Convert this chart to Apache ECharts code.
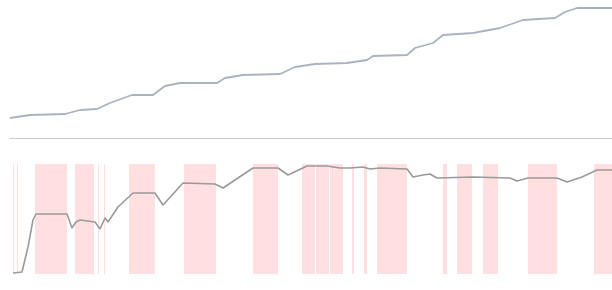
<!DOCTYPE html>
<html>
<head>
<meta charset="utf-8">
<script src="https://cdn.jsdelivr.net/npm/echarts@6/dist/echarts.min.js"></script>
<style>
  html, body { margin: 0; padding: 0; background: #fff; }
  #chart { width: 612px; height: 290px; }
</style>
</head>
<body>
<div id="chart"></div>
<script>
// top panel: cumulative curve [x, value]
const topLine = [
  [0, 20], [20, 23], [55, 24], [70, 28], [87, 29], [100, 35], [122, 43], [143, 43],
  [155, 52], [170, 55], [207, 55], [215, 60], [233, 63], [270, 64], [285, 71],
  [305, 74], [337, 75], [357, 78], [363, 82], [397, 83], [405, 90], [423, 95],
  [433, 103], [463, 105], [490, 110], [513, 118], [545, 120], [555, 126],
  [567, 130], [602, 130]
];

// bottom panel: level curve [x, value]
const bottomLine = [
  [3, 1], [12, 2], [18, 27], [23, 54], [26, 60], [57, 60], [62, 46], [66, 52],
  [70, 54], [85, 52], [90, 45], [95, 56], [98, 52], [108, 67], [123, 81],
  [145, 81], [153, 69], [173, 91], [205, 90], [213, 86], [243, 106], [268, 106],
  [278, 99], [297, 108], [317, 108], [330, 106], [340, 106], [353, 107],
  [360, 105], [370, 106], [397, 105], [403, 97], [413, 99], [420, 100],
  [427, 96], [463, 97], [500, 96], [507, 93], [518, 96], [547, 96], [557, 92],
  [572, 97], [587, 104], [602, 104]
];

// highlighted intervals [start, end]
const bands = [
  [3, 4], [7, 8], [25, 57], [65, 84], [88, 89], [94, 95], [119, 145], [174, 206],
  [243, 268], [292, 305], [306, 319], [320, 333], [342, 344], [354, 357],
  [367, 397], [433, 437], [447, 462], [473, 488], [518, 547], [584, 602]
];

const chart = echarts.init(document.getElementById("chart"));

const option = {
  animation: false,
  grid: [
    { left: 10, right: 0, top: 0, bottom: 152 },
    { left: 10, right: 0, top: 164, bottom: 16 }
  ],
  xAxis: [
    {
      gridIndex: 0,
      type: "value",
      min: 0,
      max: 602,
      axisLine: { show: true, lineStyle: { color: "#ccc" } },
      axisTick: { show: false },
      axisLabel: { show: false },
      splitLine: { show: false }
    },
    {
      gridIndex: 1,
      type: "value",
      min: 0,
      max: 602,
      axisLine: { show: false },
      axisTick: { show: false },
      axisLabel: { show: false },
      splitLine: { show: false }
    }
  ],
  yAxis: [
    {
      gridIndex: 0,
      type: "value",
      min: 0,
      max: 138,
      show: false
    },
    {
      gridIndex: 1,
      type: "value",
      min: 0,
      max: 110,
      show: false
    }
  ],
  series: [
    {
      type: "line",
      xAxisIndex: 0,
      yAxisIndex: 0,
      data: topLine,
      showSymbol: false,
      lineStyle: { color: "#aab3c2", width: 1.8 }
    },
    {
      type: "line",
      xAxisIndex: 1,
      yAxisIndex: 1,
      data: bottomLine,
      showSymbol: false,
      lineStyle: { color: "#9a9a9a", width: 1.6 },
      z: 3,
      markArea: {
        silent: true,
        itemStyle: { color: "rgba(255,150,150,0.3)" },
        data: bands.map((b) => [{ xAxis: b[0] }, { xAxis: b[1] }])
      }
    }
  ]
};

chart.setOption(option);
</script>
</body>
</html>
